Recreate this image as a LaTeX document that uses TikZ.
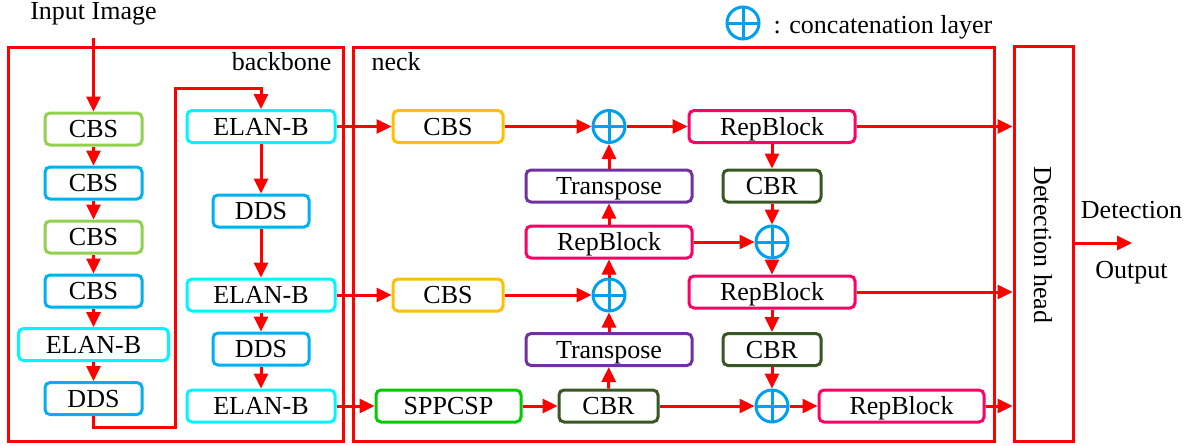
\documentclass[tikz,border=0pt]{standalone}
\usepackage{fontspec}
\setmainfont{Liberation Serif}
\usetikzlibrary{arrows.meta,calc}
\definecolor{cbsgreen}{RGB}{146,208,80}
\definecolor{cbsblue}{RGB}{0,176,240}
\definecolor{elancyan}{RGB}{0,245,255}
\definecolor{cbsorange}{RGB}{255,192,0}
\definecolor{repink}{RGB}{255,0,102}
\definecolor{trpurple}{RGB}{112,48,160}
\definecolor{sppgreen}{RGB}{0,204,0}
\definecolor{cbrgreen}{RGB}{56,87,35}
\definecolor{catblue}{RGB}{0,160,240}
\begin{document}
\begin{tikzpicture}[x=1pt,y=-1pt,
  font=\fontsize{26}{30}\selectfont,
  blk/.style={draw=#1, line width=3pt, rounded corners=5pt, inner sep=0pt,
    minimum height=32pt, text height=17pt, text depth=0pt, fill=white},
  arr/.style={red, line width=3pt, -{Triangle[length=15pt,width=14pt]}},
  frame/.style={draw=red, line width=3pt},
  cat/.style={circle, draw=catblue, line width=3pt, minimum size=32pt, inner sep=0pt,
    path picture={\draw[catblue, line width=3pt]
      (path picture bounding box.north) -- (path picture bounding box.south)
      (path picture bounding box.west) -- (path picture bounding box.east);}}
]
\useasboundingbox (0,0) rectangle (1195,445);

% frames
\draw[frame] (8,47) rectangle (343,441);
\draw[frame] (353,47) rectangle (994,441);
\node[frame, inner sep=0pt, minimum width=59pt, minimum height=395pt] (det) at (1043.5,243.5) {};
\node[rotate=-90] (dettxt) at (1043,245) {Detection head};

% labels
\node (inp) at (93.5,14) {Input Image};
\node[anchor=base east] (lbb) at (335,70) {backbone};
\node[anchor=base west] (lnk) at (368,70) {neck};
\node[cat] (legcat) at (743,23) {};
\node[anchor=base west] (legtxt) at (770,33) {: concatenation layer};
\node (lout1) at (1131.5,210) {Detection};
\node (lout2) at (1131.5,273) {Output};

% backbone, first column
\node[blk=cbsgreen, minimum width=97pt] (c1) at (93.5,129) {CBS};
\node[blk=cbsblue,  minimum width=97pt] (c2) at (93.5,183) {CBS};
\node[blk=cbsgreen, minimum width=97pt] (c3) at (93.5,237) {CBS};
\node[blk=cbsblue,  minimum width=97pt] (c4) at (93.5,291) {CBS};
\node[blk=elancyan, minimum width=150pt] (le) at (93.5,344.5) {ELAN-B};
\node[blk=cbsblue,  minimum width=97pt] (ld) at (93.5,398.5) {DDS};

% backbone, second column
\node[blk=elancyan, minimum width=148pt] (e1) at (261,126.5) {ELAN-B};
\node[blk=cbsblue,  minimum width=96pt]  (m1) at (261,211) {DDS};
\node[blk=elancyan, minimum width=148pt] (e2) at (261,295) {ELAN-B};
\node[blk=cbsblue,  minimum width=96pt]  (m2) at (261,349) {DDS};
\node[blk=elancyan, minimum width=148pt] (e3) at (261,406) {ELAN-B};

% neck
\node[blk=cbsorange, minimum width=110pt] (n1) at (448,126.5) {CBS};
\node[cat] (k1) at (609,126.5) {};
\node[blk=repink, minimum width=166pt] (r1) at (772,126.5) {RepBlock};
\node[blk=trpurple, minimum width=166pt] (t1) at (609,186) {Transpose};
\node[blk=cbrgreen, minimum width=98pt] (b1) at (772,186) {CBR};
\node[blk=repink, minimum width=166pt] (rm) at (609,242) {RepBlock};
\node[cat] (k2) at (772,242) {};
\node[blk=cbsorange, minimum width=110pt] (n2) at (448,295) {CBS};
\node[cat] (k4) at (609,295) {};
\node[blk=repink, minimum width=166pt] (r2) at (772,292) {RepBlock};
\node[blk=trpurple, minimum width=166pt] (t2) at (609,349.5) {Transpose};
\node[blk=cbrgreen, minimum width=98pt] (b2) at (772,349.5) {CBR};
\node[blk=sppgreen, minimum width=145pt] (s) at (448.5,406) {SPPCSP};
\node[blk=cbrgreen, minimum width=99pt] (b3) at (608.5,406) {CBR};
\node[cat] (k3) at (772,406) {};
\node[blk=repink, minimum width=165pt] (r3) at (901.5,406) {RepBlock};

% route points
\coordinate (in0) at (93.5,38);
\coordinate (w1) at (175,427);
\coordinate (w2) at (175,88);
\coordinate (out) at (1132,243);

% backbone connectors
\draw[arr] (in0) -- (c1);
\draw[arr] (c1) -- (c2);
\draw[arr] (c2) -- (c3);
\draw[arr] (c3) -- (c4);
\draw[arr] (c4) -- (le);
\draw[arr] (le) -- (ld);
\draw[arr] (ld.south) |- (w1) -- (w2) -| (e1.north);
\draw[arr] (e1) -- (m1);
\draw[arr] (m1) -- (e2);
\draw[arr] (e2) -- (m2);
\draw[arr] (m2) -- (e3);

% neck connectors
\draw[arr] (e1) -- (n1);
\draw[arr] (n1) -- (k1);
\draw[arr] (k1) -- (r1);
\draw[arr] (t1) -- (k1);
\draw[arr] (rm) -- (t1);
\draw[arr] (k4) -- (rm);
\draw[arr] (t2) -- (k4);
\draw[arr] (b3) -- (t2);
\draw[arr] (e2) -- (n2);
\draw[arr] (n2) -- (k4);
\draw[arr] (e3) -- (s);
\draw[arr] (s) -- (b3);
\draw[arr] (b3) -- (k3);
\draw[arr] (r1) -- (b1);
\draw[arr] (b1) -- (k2);
\draw[arr] (rm) -- (k2);
\draw[arr] (k2) -- (r2);
\draw[arr] (r2) -- (b2);
\draw[arr] (b2) -- (k3);
\draw[arr] (k3) -- (r3);

% into the head
\draw[arr] (r1) -- (r1 -| det.west);
\draw[arr] (r2) -- (r2 -| det.west);
\draw[arr] (r3) -- (r3 -| det.west);
\draw[arr] (out -| det.east) -- (out);
\end{tikzpicture}
\end{document}
